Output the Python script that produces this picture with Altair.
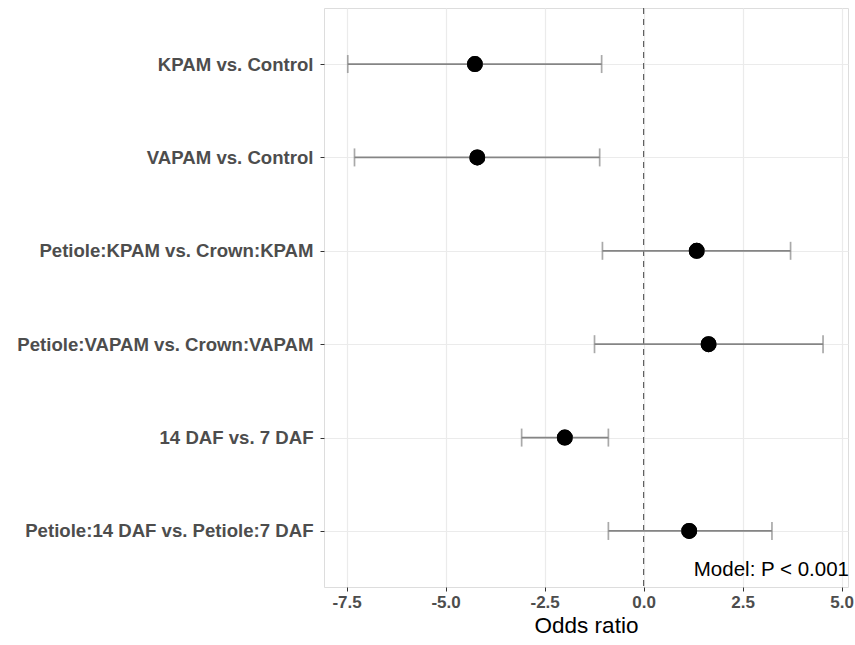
import altair as alt
import pandas as pd

terms = [
    "KPAM vs. Control",
    "VAPAM vs. Control",
    "Petiole:KPAM vs. Crown:KPAM",
    "Petiole:VAPAM vs. Crown:VAPAM",
    "14 DAF vs. 7 DAF",
    "Petiole:14 DAF vs. Petiole:7 DAF",
]
estimate = [-4.26, -4.20, 1.34, 1.64, -1.99, 1.15]
lower = [-7.47, -7.30, -1.04, -1.24, -3.08, -0.89]
upper = [-1.06, -1.11, 3.71, 4.53, -0.89, 3.24]
x_ticks = [-7.5, -5.0, -2.5, 0.0, 2.5, 5.0]
annotation = "Model: P < 0.001"

df = pd.DataFrame({"term": terms, "estimate": estimate, "lower": lower, "upper": upper})

FONT = "Liberation Sans"
W, H = 524, 579
BAR = "#858585"

xscale = alt.Scale(domain=[-8.07, 5.16], nice=False, zero=False)
yscale = alt.Scale(type="point", domain=terms, padding=0.6)

x_enc = alt.X(
    "estimate:Q",
    scale=xscale,
    title="Odds ratio",
    axis=alt.Axis(
        values=x_ticks,
        labelExpr="datum.value < 0 ? '-' + format(-datum.value, '.1f') : format(datum.value, '.1f')",
        grid=True,
        gridColor="#EBEBEB",
        gridWidth=1.2,
        domain=False,
        tickColor="#333333",
        tickSize=4,
        tickWidth=1,
        labelFont=FONT,
        labelFontSize=17,
        labelFontWeight="bold",
        labelColor="#4D4D4D",
        labelPadding=3,
        titleFont=FONT,
        titleFontSize=22.5,
        titleFontWeight="normal",
        titleColor="#000000",
        titlePadding=4,
    ),
)
y_enc = alt.Y(
    "term:N",
    scale=yscale,
    sort=terms,
    title=None,
    axis=alt.Axis(
        grid=True,
        gridColor="#EBEBEB",
        gridWidth=1.2,
        domain=False,
        tickColor="#333333",
        tickSize=4,
        tickWidth=1,
        labelFont=FONT,
        labelFontSize=18.6,
        labelFontWeight="bold",
        labelColor="#4D4D4D",
        labelPadding=7,
        labelLimit=0,
    ),
)

base = alt.Chart(df)

zero_line = alt.Chart(pd.DataFrame({"z": [0.0]})).mark_rule(
    color="#555555", strokeDash=[6, 5], strokeWidth=1.1
).encode(x=alt.X("z:Q", scale=xscale))

y_plain = alt.Y("term:N", scale=yscale, sort=terms)

bars = base.mark_rule(color=BAR, strokeWidth=1.7).encode(
    x=alt.X("lower:Q", scale=xscale), x2="upper:Q", y=y_plain
)
cap_lo = base.mark_tick(color=BAR, size=18, thickness=1.7, orient="vertical").encode(
    x=alt.X("lower:Q", scale=xscale), y=y_plain
)
cap_hi = base.mark_tick(color=BAR, size=18, thickness=1.7, orient="vertical").encode(
    x=alt.X("upper:Q", scale=xscale), y=y_plain
)
points = base.mark_circle(color="#000000", size=254, opacity=1).encode(x=x_enc, y=y_enc)

text = alt.Chart(pd.DataFrame({"label": [annotation]})).mark_text(
    align="right", baseline="middle", font=FONT, fontSize=20.5, color="#000000"
).encode(x=alt.value(W + 1), y=alt.value(562), text="label:N")

chart = (
    alt.layer(points, zero_line, bars, cap_lo, cap_hi, points, text)
    .properties(
        width=W,
        height=H,
        autosize=alt.AutoSizeParams(type="none"),
        padding={"left": 324, "top": 8, "right": 7, "bottom": 58},
    )
    .configure_view(stroke="#7F7F7F", strokeWidth=1.2)
    .configure(background="white")
)

chart.save("out.html", embed_options={"renderer": "svg", "actions": False})
